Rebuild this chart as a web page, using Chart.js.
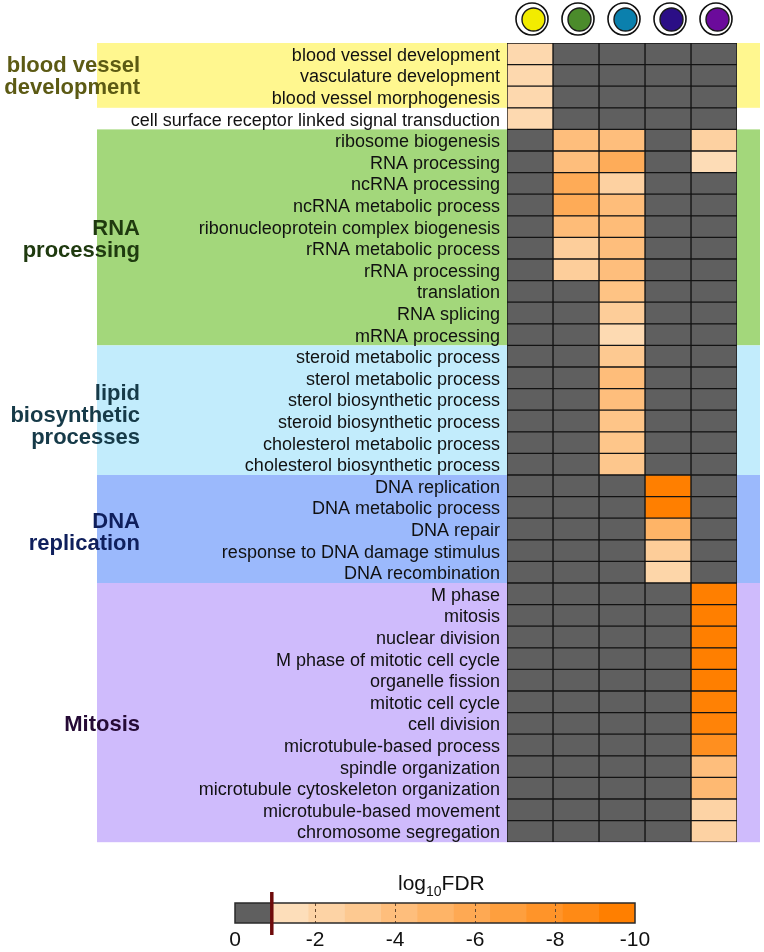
<!DOCTYPE html>
<html><head><meta charset="utf-8">
<script src="https://cdn.jsdelivr.net/npm/chart.js@4.4.1/dist/chart.umd.min.js"></script>
<style>
html,body{margin:0;padding:0;background:#fff;width:764px;height:952px;overflow:hidden;}
#main{position:absolute;left:0;top:0;width:764px;height:860px;}
#leg{position:absolute;left:0;top:860px;width:764px;height:92px;}
#legTitle{position:absolute;left:398px;top:871px;font:21px "Liberation Sans",Arial,sans-serif;color:#111;white-space:nowrap;}
#legTitle span{font-size:14px;position:relative;top:6px;}
</style></head><body>
<div id="main"><canvas id="c1"></canvas></div>
<div id="leg"><canvas id="c2"></canvas></div>
<div id="legTitle">log<span>10</span>FDR</div>
<script>
// ---- data ----
const categories = [
  "blood vessel development","vasculature development","blood vessel morphogenesis",
  "cell surface receptor linked signal transduction",
  "ribosome biogenesis","RNA processing","ncRNA processing","ncRNA metabolic process",
  "ribonucleoprotein complex biogenesis","rRNA metabolic process","rRNA processing",
  "translation","RNA splicing","mRNA processing",
  "steroid metabolic process","sterol metabolic process","sterol biosynthetic process",
  "steroid biosynthetic process","cholesterol metabolic process","cholesterol biosynthetic process",
  "DNA replication","DNA metabolic process","DNA repair","response to DNA damage stimulus","DNA recombination",
  "M phase","mitosis","nuclear division","M phase of mitotic cell cycle","organelle fission",
  "mitotic cell cycle","cell division","microtubule-based process","spindle organization",
  "microtubule cytoskeleton organization","microtubule-based movement","chromosome segregation"
];
const N = null; // not significant
// log10 FDR per column (yellow, green, teal, indigo, purple)
const colYellow = [-1.6,-1.6,-1.6,-1.5, N,N,N,N,N,N,N,N,N,N, N,N,N,N,N,N, N,N,N,N,N, N,N,N,N,N,N,N,N,N,N,N,N];
const colGreen  = [N,N,N,N, -4.0,-4.0,-5.8,-5.8,-4.2,-2.5,-2.5,N,N,N, N,N,N,N,N,N, N,N,N,N,N, N,N,N,N,N,N,N,N,N,N,N,N];
const colTeal   = [N,N,N,N, -4.0,-5.7,-2.2,-4.1,-4.2,-4.0,-4.0,-3.6,-2.6,-1.4, -3.0,-4.1,-4.0,-3.4,-3.3,-3.2, N,N,N,N,N, N,N,N,N,N,N,N,N,N,N,N,N];
const colIndigo = [N,N,N,N, N,N,N,N,N,N,N,N,N,N, N,N,N,N,N,N, -10,-10,-5.0,-2.6,-1.8, N,N,N,N,N,N,N,N,N,N,N,N];
const colPurple = [N,N,N,N, -2.2,-1.2,N,N,N,N,N,N,N,N, N,N,N,N,N,N, N,N,N,N,N, -10,-10,-10,-10,-10,-9.8,-9.6,-8.5,-4.0,-4.5,-2.0,-2.1];
const groupLabels = [["blood vessel","development"],["RNA","processing"],["lipid","biosynthetic","processes"],["DNA","replication"],["Mitosis"]];
const groupRows = [[0,2],[4,13],[14,19],[20,24],[25,36]];
const groupLabelCenter = [1.55, 9.12, 17.28, 22.66, 31.55]; // in row units from top
const threshold = -0.92;
const legendTicks = [0,-2,-4,-6,-8,-10];

// ---- styles ----
const FONT = '"Liberation Sans", Arial, sans-serif';
const GRAY = '#5f5f5f';
const bandColors = ['#fff78f','#a3d77b','#c2ecfc','#9bb9fc','#cfbbfc'];
const groupTextColors = ['#5c5a14','#1f3a0f','#163a48','#0f1f5c','#250a35'];
const circleColors = ['#f2ec00','#4b8b2b','#0b80ad','#2b0e86','#6b0b9b'];
const C0 = [253,222,186], C1 = [255,127,0];
function fdrColor(v){
  if (v === null || v > threshold) return GRAY;
  let t = (-v - 1) / 9; t = Math.max(0, Math.min(1, t));
  const c = C0.map((a,i)=>Math.round(a + (C1[i]-a)*t));
  return `rgb(${c[0]},${c[1]},${c[2]})`;
}

const columns = [colYellow, colGreen, colTeal, colIndigo, colPurple];
const datasets = columns.map((vals, c) => ({
  data: categories.map(() => [c, c + 1]),
  backgroundColor: vals.map(v => fdrColor(v)),
  borderColor: '#141414', borderWidth: 1, borderSkipped: false,
  barPercentage: 1, categoryPercentage: 1, grouped: false
}));

const bgPlugin = {
  id: 'bg',
  beforeDraw(chart){
    const ctx = chart.ctx, y = chart.scales.y;
    const h = Math.abs(y.getPixelForValue(1) - y.getPixelForValue(0));
    ctx.save();
    groupRows.forEach((r, g) => {
      const top = y.getPixelForValue(r[0]) - h/2;
      const bot = y.getPixelForValue(r[1]) + h/2;
      ctx.fillStyle = bandColors[g];
      ctx.fillRect(97, top, 663, bot - top);
    });
    ctx.font = 'bold 22px ' + FONT;
    ctx.textAlign = 'right'; ctx.textBaseline = 'middle';
    groupLabels.forEach((lines, g) => {
      const cy = y.getPixelForValue(0) - h/2 + groupLabelCenter[g] * h;
      ctx.fillStyle = groupTextColors[g];
      lines.forEach((ln, i) => {
        ctx.fillText(ln, 140, cy + (i - (lines.length - 1)/2) * 22);
      });
    });
    ctx.restore();
  },
  afterDraw(chart){
    const ctx = chart.ctx, x = chart.scales.x;
    ctx.save();
    circleColors.forEach((col, c) => {
      const cx = x.getPixelForValue(c + 0.5) + 2, cy = 19;
      ctx.beginPath(); ctx.arc(cx, cy, 16, 0, Math.PI*2);
      ctx.fillStyle = '#fff'; ctx.fill();
      ctx.lineWidth = 1.6; ctx.strokeStyle = '#111'; ctx.stroke();
      ctx.beginPath(); ctx.arc(cx + 1.5, cy + 0.5, 11.5, 0, Math.PI*2);
      ctx.fillStyle = col; ctx.fill();
      ctx.lineWidth = 1.4; ctx.strokeStyle = '#1a1a1a'; ctx.stroke();
    });
    ctx.restore();
  }
};

new Chart(document.getElementById('c1'), {
  type: 'bar',
  data: { labels: categories, datasets },
  options: {
    indexAxis: 'y', responsive: true, maintainAspectRatio: false, animation: false,
    layout: { padding: { left: 0, right: 27, top: 43, bottom: 15 } },
    plugins: { legend: { display: false }, tooltip: { enabled: false } },
    scales: {
      x: { type: 'linear', min: 0, max: 5, display: false },
      y: {
        type: 'category',
        grid: { display: false, drawTicks: false }, border: { display: false },
        ticks: { color: '#111', font: { family: FONT, size: 18 }, padding: 7, autoSkip: false, labelOffset: 2 },
        afterFit(s){ s.width = 507; }
      }
    }
  },
  plugins: [bgPlugin]
});

// ---- colour bar legend ----
const segs = [{ range: [threshold, 0], color: GRAY }];
const nSteps = 10, stepW = (10 + threshold) / nSteps;
for (let k = 0; k < nSteps; k++) {
  const hi = threshold - k * stepW, lo = threshold - (k + 1) * stepW;
  const t = k / (nSteps - 1);
  const c = C0.map((a,i)=>Math.round(a + (C1[i]-a)*t));
  segs.push({ range: [lo, hi], color: `rgb(${c[0]},${c[1]},${c[2]})` });
}
const legPlugin = {
  id: 'legdeco',
  afterDatasetsDraw(chart){
    const ctx = chart.ctx, a = chart.chartArea, x = chart.scales.x;
    ctx.save();
    ctx.strokeStyle = '#6b4a2e'; ctx.lineWidth = 1; ctx.setLineDash([3, 3]);
    legendTicks.slice(1, -1).forEach(v => {
      const px = Math.round(x.getPixelForValue(v)) + 0.5;
      ctx.beginPath(); ctx.moveTo(px, a.top); ctx.lineTo(px, a.bottom); ctx.stroke();
    });
    ctx.setLineDash([]);
    ctx.strokeStyle = '#2a2a2a'; ctx.lineWidth = 1.5;
    ctx.strokeRect(a.left, a.top, a.right - a.left, a.bottom - a.top);
    const mx = x.getPixelForValue(threshold);
    ctx.strokeStyle = '#6e0b0b'; ctx.lineWidth = 3.5;
    ctx.beginPath(); ctx.moveTo(mx, a.top - 11); ctx.lineTo(mx, a.bottom + 12); ctx.stroke();
    ctx.restore();
  }
};
new Chart(document.getElementById('c2'), {
  type: 'bar',
  data: {
    labels: ['FDR'],
    datasets: segs.map(s => ({ data: [s.range], backgroundColor: s.color, borderWidth: 0,
      barPercentage: 1, categoryPercentage: 1, grouped: false }))
  },
  options: {
    indexAxis: 'y', responsive: true, maintainAspectRatio: false, animation: false,
    layout: { padding: { left: 235, right: 129, top: 43, bottom: 0 } },
    plugins: { legend: { display: false }, tooltip: { enabled: false } },
    scales: {
      x: {
        type: 'linear', min: -10, max: 0, reverse: true,
        afterBuildTicks(s){ s.ticks = legendTicks.map(v => ({ value: v })); },
        ticks: { color: '#111', font: { family: FONT, size: 21 }, padding: 5,
                 callback: v => String(v), maxRotation: 0 },
        grid: { display: false, drawTicks: false },
        border: { display: false },
        afterFit(s){ s.height = 29; }
      },
      y: { type: 'category', display: false }
    }
  },
  plugins: [legPlugin]
});
</script>
</body></html>
